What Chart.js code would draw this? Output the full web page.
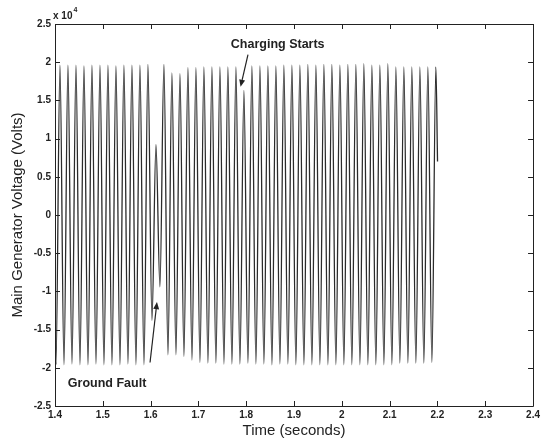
<!DOCTYPE html>
<html>
<head>
<meta charset="utf-8">
<script src="https://cdn.jsdelivr.net/npm/chart.js@4/dist/chart.umd.min.js"></script>
<style>
  html, body { margin: 0; padding: 0; background: #fff; }
  #wrap { width: 543px; height: 442px; }
</style>
</head>
<body>
<div id="wrap"><canvas id="c" width="543" height="442"></canvas></div>
<script>
// Time (seconds) of each sample (start, every peak / trough, end)
const times = [
  1.4000, 1.4020,
  1.4104, 1.4188, 1.4271, 1.4355, 1.4439, 1.4522, 1.4606, 1.4690, 1.4773, 1.4857,
  1.4941, 1.5024, 1.5108, 1.5191, 1.5275, 1.5359, 1.5442, 1.5526, 1.5610, 1.5693,
  1.5777, 1.5861, 1.5944, 1.6028, 1.6112, 1.6195, 1.6279, 1.6363, 1.6446, 1.6530,
  1.6614, 1.6697, 1.6781, 1.6865, 1.6948, 1.7032, 1.7115, 1.7199, 1.7283, 1.7366,
  1.7450, 1.7534, 1.7617, 1.7701, 1.7785, 1.7868, 1.7952, 1.8036, 1.8119, 1.8203,
  1.8287, 1.8370, 1.8454, 1.8538, 1.8621, 1.8705, 1.8788, 1.8872, 1.8956, 1.9039,
  1.9123, 1.9207, 1.9290, 1.9374, 1.9458, 1.9541, 1.9625, 1.9709, 1.9792, 1.9876,
  1.9960, 2.0043, 2.0127, 2.0210, 2.0294, 2.0378, 2.0461, 2.0545, 2.0629, 2.0712,
  2.0796, 2.0880, 2.0963, 2.1047, 2.1131, 2.1214, 2.1298, 2.1382, 2.1465, 2.1549,
  2.1633, 2.1716, 2.1800, 2.1884, 2.1967, 2.2002
];
// Main generator voltage (Volts) at those times
const volts = [
  -14000, -19600,
  19600, -19600, 19600, -19500, 19600, -19600, 19500, -19600, 19600, -19500,
  19600, -19600, 19600, -19600, 19500, -19600, 19600, -19500, 19600, -19600,
  19600, -19600, 19700, -13800, 9200, -9400, 19700, -18300, 18600, -18300,
  18500, -18500, 19300, -19000, 19300, -19300, 19400, -19400, 19400, -19400,
  19400, -19500, 19400, -19500, 19400, -19500, 16300, -19400, 19500, -19500,
  19500, -19500, 19500, -19600, 19500, -19500, 19600, -19500, 19600, -19600,
  19600, -19600, 19700, -19600, 19600, -19600, 19700, -19600, 19700, -19600,
  19600, -19600, 19700, -19600, 19700, -19600, 19800, -19600, 19600, -19600,
  19600, -19600, 19800, -19600, 19400, -19400, 19400, -19400, 19400, -19400,
  19400, -19400, 19400, -19300, 19400, 7000
];
const xTicks = [1.4, 1.5, 1.6, 1.7, 1.8, 1.9, 2.0, 2.1, 2.2, 2.3, 2.4];
const yTicks = [-25000, -20000, -15000, -10000, -5000, 0, 5000, 10000, 15000, 20000, 25000];

// Annotations (text anchor and arrow tail/head, in data units)
const noteTexts = ['Charging Starts', 'Ground Fault'];
const noteTextX = [1.8658, 1.4269];
const noteTextY = [22300, -22000];
const noteAlign = ['center', 'left'];
const arrowTailX = [1.8037, 1.5988];
const arrowTailY = [21000, -19300];
const arrowHeadX = [1.7882, 1.6133];
const arrowHeadY = [16800, -11400];

const FONT = "'Liberation Sans', Arial, Helvetica, sans-serif";
const INK = '#222';

function fmt(v) { return parseFloat(v.toFixed(2)).toString(); }

const framePlugin = {
  id: 'frame',
  afterDatasetsDraw(chart) {
    const { ctx, chartArea: a, scales } = chart;
    ctx.save();
    ctx.strokeStyle = INK;
    ctx.lineWidth = 1;
    ctx.beginPath();
    ctx.rect(Math.round(a.left) + 0.5, Math.round(a.top) + 0.5,
             Math.round(a.right - a.left), Math.round(a.bottom - a.top));
    ctx.stroke();
    const tl = 5;
    ctx.beginPath();
    xTicks.forEach(v => {
      const x = Math.round(scales.x.getPixelForValue(v)) + 0.5;
      ctx.moveTo(x, a.bottom); ctx.lineTo(x, a.bottom - tl);
      ctx.moveTo(x, a.top); ctx.lineTo(x, a.top + tl);
    });
    yTicks.forEach(v => {
      const y = Math.round(scales.y.getPixelForValue(v)) + 0.5;
      ctx.moveTo(a.left, y); ctx.lineTo(a.left + tl, y);
      ctx.moveTo(a.right, y); ctx.lineTo(a.right - tl, y);
    });
    ctx.stroke();

    // exponent label
    ctx.fillStyle = INK;
    ctx.textBaseline = 'alphabetic';
    ctx.textAlign = 'left';
    ctx.font = 'bold 10px ' + FONT;
    ctx.fillText('x 10', a.left - 2, a.top - 5);
    const w = ctx.measureText('x 10').width;
    ctx.font = 'bold 7px ' + FONT;
    ctx.fillText('4', a.left - 2 + w + 1, a.top - 12);

    // annotations
    ctx.font = 'bold 12.5px ' + FONT;
    ctx.textBaseline = 'middle';
    noteTexts.forEach((t, i) => {
      ctx.textAlign = noteAlign[i];
      ctx.fillText(t, scales.x.getPixelForValue(noteTextX[i]), scales.y.getPixelForValue(noteTextY[i]));
      const x0 = scales.x.getPixelForValue(arrowTailX[i]), y0 = scales.y.getPixelForValue(arrowTailY[i]);
      const x1 = scales.x.getPixelForValue(arrowHeadX[i]), y1 = scales.y.getPixelForValue(arrowHeadY[i]);
      const ang = Math.atan2(y1 - y0, x1 - x0);
      const hl = 7, hw = 3;
      ctx.beginPath();
      ctx.lineWidth = 1.2;
      ctx.moveTo(x0, y0);
      ctx.lineTo(x1 - hl * Math.cos(ang), y1 - hl * Math.sin(ang));
      ctx.stroke();
      ctx.beginPath();
      ctx.moveTo(x1, y1);
      ctx.lineTo(x1 - hl * Math.cos(ang) + hw * Math.sin(ang), y1 - hl * Math.sin(ang) - hw * Math.cos(ang));
      ctx.lineTo(x1 - hl * Math.cos(ang) - hw * Math.sin(ang), y1 - hl * Math.sin(ang) + hw * Math.cos(ang));
      ctx.closePath();
      ctx.fill();
    });
    ctx.restore();
  }
};

new Chart(document.getElementById('c'), {
  type: 'line',
  data: {
    datasets: [{
      data: times.map((t, i) => ({ x: t, y: volts[i] })),
      borderColor: '#2b2b2b',
      borderWidth: 1.3,
      pointRadius: 0,
      cubicInterpolationMode: 'monotone',
      fill: false
    }]
  },
  options: {
    responsive: false,
    animation: false,
    devicePixelRatio: 1,
    layout: { padding: { top: 24, right: 5, left: 0, bottom: 0 } },
    plugins: { legend: { display: false }, tooltip: { enabled: false } },
    scales: {
      x: {
        type: 'linear',
        min: 1.4, max: 2.4,
        afterBuildTicks: s => { s.ticks = xTicks.map(v => ({ value: v })); },
        afterFit: s => { s.height = 36; },
        grid: { display: false, drawTicks: false },
        border: { display: false },
        ticks: {
          autoSkip: false, maxRotation: 0, padding: 3,
          color: INK, font: { family: FONT, size: 10, weight: 'bold' },
          callback: v => fmt(v)
        },
        title: {
          display: true, text: 'Time (seconds)', color: INK,
          font: { family: FONT, size: 15 }, padding: { top: 0, bottom: 2 }
        }
      },
      y: {
        type: 'linear',
        min: -25000, max: 25000,
        afterBuildTicks: s => { s.ticks = yTicks.map(v => ({ value: v })); },
        afterFit: s => { s.width = 55; },
        grid: { display: false, drawTicks: false },
        border: { display: false },
        ticks: {
          autoSkip: false, padding: 4,
          color: INK, font: { family: FONT, size: 10, weight: 'bold' },
          callback: v => fmt(v / 10000)
        },
        title: {
          display: true, text: 'Main Generator Voltage (Volts)', color: INK,
          font: { family: FONT, size: 15 }, padding: { top: 9, bottom: 0 }
        }
      }
    }
  },
  plugins: [framePlugin]
});
</script>
</body>
</html>
